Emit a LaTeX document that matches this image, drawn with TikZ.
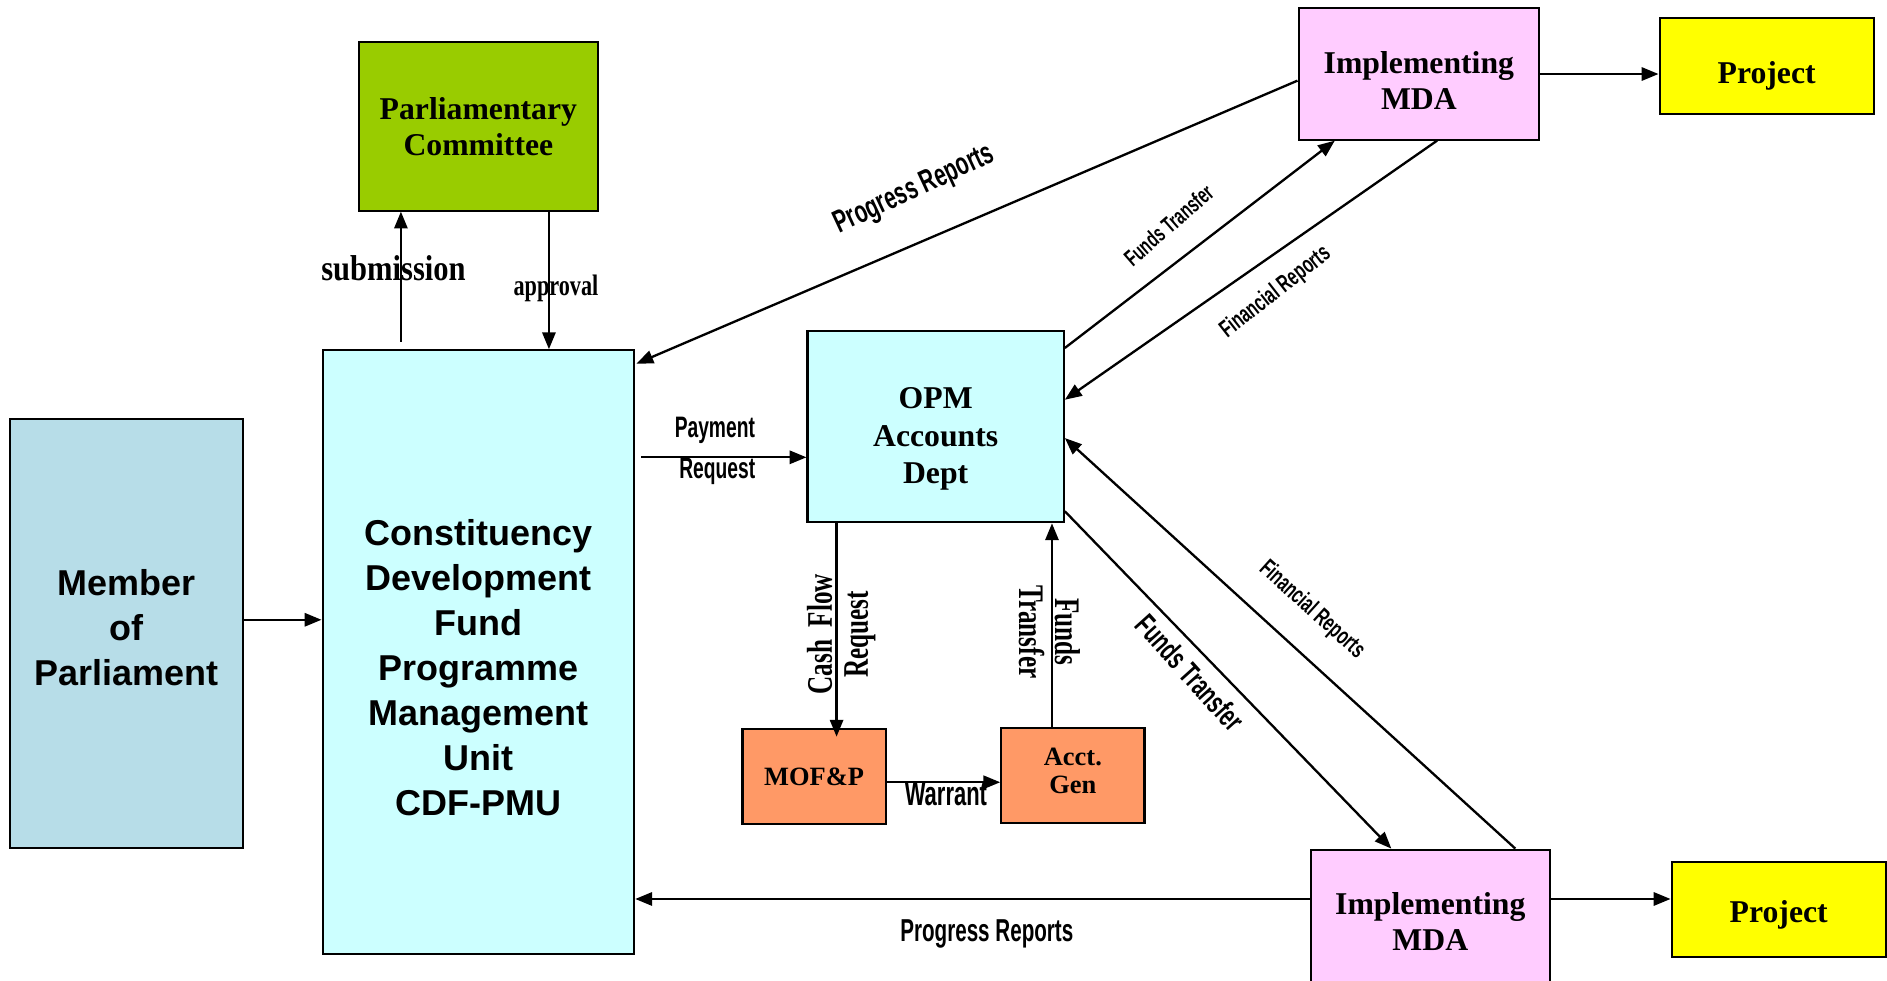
\documentclass[tikz,border=0pt]{standalone}
\usepackage{fontspec}
\usepackage{graphicx}
\setmainfont{Liberation Serif}
\newfontfamily\arl{Liberation Sans}
\usetikzlibrary{arrows.meta,calc}

\definecolor{pcgreen}{HTML}{99CC00}
\definecolor{cyanbox}{HTML}{CCFFFF}
\definecolor{mopblue}{HTML}{B7DDE8}
\definecolor{mdapink}{HTML}{FFCCFF}
\definecolor{prjyellow}{HTML}{FFFF00}
\definecolor{moforange}{HTML}{FF9966}

\newcommand{\cnd}[2][0.65]{\scalebox{#1}[1]{#2}}
\newcommand{\lift}[1]{\rule{0pt}{#1}}

\tikzset{
  box/.style={draw, line width=1pt, inner sep=0pt, align=center,
    font=\fontsize{15}{17}\selectfont\bfseries},
  sfnt/.style={align=center, inner sep=0pt,
    font=\arl\fontsize{17}{21.3}\selectfont\bfseries},
  up/.style={execute at end node={\rule[-#1]{0pt}{0pt}}},
  link/.style={line width=1.1pt, -{Triangle[length=0.28cm,width=0.22cm]}},
  lbl/.style={inner sep=0pt, font=\arl\fontsize{#1}{#1}\selectfont\bfseries},
  lbl/.default=14,
  slbl/.style={inner sep=0pt, align=center, font=\fontsize{#1}{#1}\selectfont\bfseries},
  slbl/.default=17,
}

\begin{document}
\begin{tikzpicture}[x=0.02cm, y=-0.02cm]
\useasboundingbox (0,0) rectangle (1568,815);

% boxes
\node[box, fill=pcgreen, minimum width=3.98cm, minimum height=2.80cm] (pc) at (397.5,105) {Parliamentary\\Committee};
\node[box, fill=cyanbox, minimum width=5.18cm, minimum height=10.04cm] (cdf) at (397.5,542) {};
\node[sfnt] (cdftxt) at (397.5,554.5) {Constituency\\Development\\Fund\\Programme\\Management\\Unit\\CDF-PMU};
\node[box, sfnt, draw, up=5.7pt, fill=mopblue, minimum width=3.88cm, minimum height=7.14cm] (mop) at (105,526.5) {Member\\of\\Parliament};
\node[box, fill=cyanbox, minimum width=4.26cm, minimum height=3.18cm,
  font=\fontsize{15}{17.6}\selectfont\bfseries] (opm) at (777.5,354.5) {\lift{21.6pt}OPM\\Accounts\\Dept};
\node[box, fill=mdapink, minimum width=4.00cm, minimum height=2.18cm] (mda1) at (1179,61.5) {\lift{17pt}Implementing\\MDA};
\node[box, fill=prjyellow, minimum width=3.56cm, minimum height=1.60cm] (prj1) at (1468,55) {\lift{19.3pt}Project};
\node[box, fill=moforange, minimum width=2.38cm, minimum height=1.58cm,
  font=\fontsize{12.5}{13.6}\selectfont\bfseries] (mof) at (676.5,645.5) {MOF\&P};
\node[box, up=4.6pt, fill=moforange, minimum width=2.38cm, minimum height=1.58cm,
  font=\fontsize{12.5}{13.6}\selectfont\bfseries] (acg) at (891.5,644.5) {Acct.\\Gen};
\node[box, fill=mdapink, minimum width=3.98cm, minimum height=2.40cm] (mda2) at (1188.5,766) {Implementing\\MDA};
\node[box, fill=prjyellow, minimum width=3.56cm, minimum height=1.58cm] (prj2) at (1478,755.5) {\lift{15.9pt}Project};

% connectors
\draw[link] ($(mop.east)+(0,-11.5)$) coordinate (m1) -- (m1 -| cdf.west);
\draw[link] ($(cdf.north west)+(66,-6)$) coordinate (s1) -- (s1 |- pc.south);
\draw[link] ($(pc.south west)+(159,0)$) coordinate (a1) -- (a1 |- cdf.north);
\draw[link] ($(mda1.west)+(0,5.5)$) -- ($(cdf.north east)+(1,12)$);
\draw[link] ($(cdf.east)+(5,-162)$) coordinate (p1) -- (p1 -| opm.west);
\draw[link] ($(opm.north east)+(0,15)$) -- ($(mda1.south west)+(31,0)$);
\draw[link] ($(mda1.south west)+(116,0)$) -- ($(opm.north east)+(0,58)$);
\draw[link] ($(opm.south west)+(25,0)$) coordinate (c1) -- ($(c1 |- mof.north)+(0,7)$);
\draw[link] ($(acg.north west)+(43,0)$) coordinate (f1) -- (f1 |- opm.south);
\draw[link] ($(mof.east)+(0,4.5)$) coordinate (w1) -- (w1 -| acg.west);
\draw[link] ($(opm.south east)+(0,-10)$) -- ($(mda2.north west)+(68,0)$);
\draw[link] ($(mda2.north west)+(171,0)$) -- ($(opm.east)+(0,9.5)$);
\draw[link] ($(mda2.west)+(0,-19)$) coordinate (r1) -- (r1 -| cdf.east);
\draw[link] (mda1.east) -- (mda1.east -| prj1.west);
\draw[link] ($(mda2.east)+(0,-19)$) coordinate (r2) -- (r2 -| prj2.west);

% labels
\node[slbl=17] (lsub) at (327,223) {\cnd[0.85]{submission}};
\node[slbl=14] (lapp) at (462,240) {\cnd[0.75]{approval}};
\node[lbl=14] (lpay) at (594,358) {\cnd{Payment}};
\node[lbl=14] (lreq) at (596,392) {\cnd{Request}};
\node[lbl=15, rotate=25] (lpr1) at (760,158) {\cnd{Progress Reports}};
\node[lbl=11, rotate=41] (lft1) at (971,187) {\cnd{Funds Transfer}};
\node[lbl=11.5, rotate=38] (lfr1) at (1060,243) {\cnd{Financial Reports}};
\node[lbl=11.5, rotate=-42] (lfr2) at (1090,507) {\cnd{Financial Reports}};
\node[lbl=14.5, rotate=-48] (lft2) at (989,559) {\cnd{Funds Transfer}};
\node[lbl=15] (lpr2) at (820,776) {\cnd{Progress Reports}};
\node[lbl=16] (lwar) at (786,660) {\cnd{Warrant}};
\node[slbl=17, rotate=90] (lcfr) at (699,527) {\cnd[0.7]{Cash\ \ Flow}\\\cnd[0.7]{Request}};
\node[slbl=17, rotate=-90] (lfv) at (872,525) {\cnd[0.7]{Funds}\\\cnd[0.7]{Transfer}};
\end{tikzpicture}
\end{document}
